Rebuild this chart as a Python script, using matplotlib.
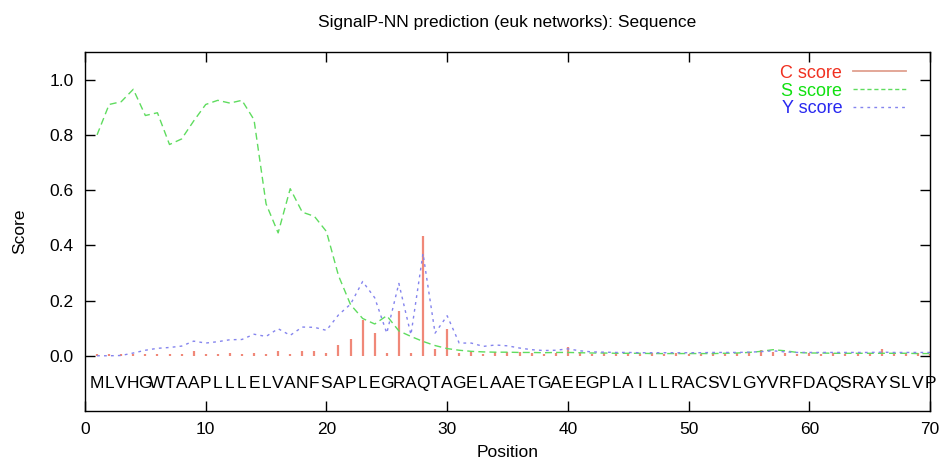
import matplotlib
matplotlib.use('Agg')
import matplotlib.pyplot as plt
from matplotlib.lines import Line2D

plt.rcParams['font.family'] = ['Liberation Sans', 'DejaVu Sans']

sequence = "MLVHGWTAAPLLLELVANFSAPLEGRAQTAGELAAETGAEEGPLAILLRACSVLGYVRFDAQSRAYSLVP"
positions = list(range(1, 71))

c_score = [0.007, 0.007, 0.007, 0.007, 0.006, 0.007, 0.007, 0.007, 0.016, 0.007,
           0.007, 0.009, 0.007, 0.011, 0.007, 0.017, 0.008, 0.017, 0.017, 0.011,
           0.040, 0.060, 0.130, 0.082, 0.011, 0.163, 0.011, 0.432, 0.024, 0.097,
           0.010, 0.012, 0.008, 0.014, 0.014, 0.012, 0.011, 0.008, 0.010, 0.030,
           0.010, 0.008, 0.009, 0.008, 0.010, 0.008, 0.009, 0.008, 0.010, 0.008,
           0.008, 0.009, 0.008, 0.010, 0.012, 0.022, 0.012, 0.010, 0.008, 0.009,
           0.008, 0.010, 0.008, 0.009, 0.010, 0.025, 0.010, 0.008, 0.009, 0.008]

s_score = [0.800, 0.910, 0.920, 0.965, 0.870, 0.880, 0.765, 0.785, 0.850, 0.910,
           0.925, 0.915, 0.925, 0.855, 0.550, 0.445, 0.605, 0.520, 0.505, 0.450,
           0.290, 0.185, 0.135, 0.115, 0.145, 0.090, 0.070, 0.052, 0.037, 0.026,
           0.020, 0.016, 0.014, 0.013, 0.013, 0.012, 0.012, 0.011, 0.012, 0.012,
           0.011, 0.010, 0.010, 0.009, 0.009, 0.009, 0.008, 0.008, 0.008, 0.008,
           0.008, 0.008, 0.009, 0.010, 0.012, 0.016, 0.022, 0.018, 0.012, 0.010,
           0.010, 0.009, 0.009, 0.009, 0.009, 0.009, 0.009, 0.009, 0.008, 0.008]

y_score = [0.000, 0.000, 0.001, 0.010, 0.020, 0.027, 0.030, 0.035, 0.053, 0.046,
           0.051, 0.058, 0.059, 0.078, 0.070, 0.098, 0.074, 0.104, 0.103, 0.092,
           0.148, 0.187, 0.269, 0.210, 0.082, 0.262, 0.076, 0.370, 0.082, 0.145,
           0.046, 0.046, 0.034, 0.039, 0.036, 0.028, 0.022, 0.019, 0.020, 0.025,
           0.018, 0.014, 0.013, 0.012, 0.012, 0.011, 0.011, 0.011, 0.011, 0.011,
           0.011, 0.012, 0.012, 0.012, 0.013, 0.015, 0.018, 0.014, 0.012, 0.012,
           0.012, 0.012, 0.012, 0.012, 0.012, 0.013, 0.012, 0.012, 0.012, 0.012]

c_line = '#f08878'
s_line = '#5fdc5f'
y_line = '#8484ee'

fig = plt.figure(figsize=(9.41, 4.68), dpi=100)
ax = fig.add_axes([85 / 941, 1 - 411 / 468, 845 / 941, 359 / 468])

ax.vlines(positions, 0, c_score, color=c_line, lw=1.6)
ax.plot(positions, s_score, color=s_line, lw=1.0, dashes=(5, 3))
ax.plot(positions, y_score, color=y_line, lw=1.0, dashes=(2, 3))

# sequence letters under the curves
for p, ch in zip(positions, sequence):
    ax.text(p, -0.1, ch, ha='center', va='center', fontsize=12.5)

ax.set_xlim(0, 70)
ax.set_ylim(-0.2, 1.1)
ax.set_xticks(range(0, 71, 10))
ax.set_yticks([0.0, 0.2, 0.4, 0.6, 0.8, 1.0])
ax.set_yticklabels(['0.0', '0.2', '0.4', '0.6', '0.8', '1.0'])
ax.tick_params(direction='in', length=7, width=1, top=True, right=True,
               labelsize=12.5, pad=8)
for sp in ax.spines.values():
    sp.set_linewidth(1.0)

ax.set_xlabel('Position', fontsize=12.5, labelpad=6)
ax.set_ylabel('Score', fontsize=12.5, labelpad=16)
ax.set_title('SignalP-NN prediction (euk networks): Sequence', fontsize=12.5, pad=18)

handles = [Line2D([], [], color='#e0a090', lw=1.3),
           Line2D([], [], color=s_line, lw=1.0, dashes=(3, 2)),
           Line2D([], [], color=y_line, lw=1.0, dashes=(2, 3))]
ax.legend(handles, ['C score', 'S score', 'Y score'], loc='upper right',
          frameon=False, markerfirst=False, fontsize=13,
          labelcolor=['#f03020', '#10e010', '#2828f0'],
          handlelength=2.9, handletextpad=0.6, labelspacing=0.05,
          borderaxespad=0.3, bbox_to_anchor=(0.986, 1.0))

fig.savefig('out.png', dpi=100)
